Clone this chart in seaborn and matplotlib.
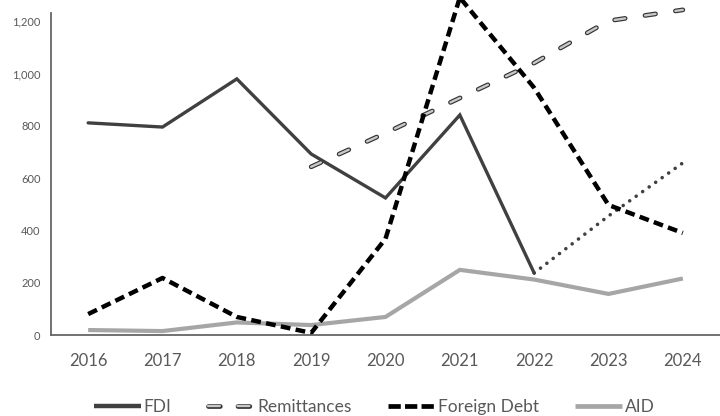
import matplotlib
matplotlib.use("Agg")
import matplotlib.pyplot as plt
import matplotlib.patheffects as pe
from matplotlib.lines import Line2D
import numpy as np
import pandas as pd
import seaborn as sns

years = [2016, 2017, 2018, 2019, 2020, 2021, 2022, 2023, 2024]
fdi = [811, 795, 979, 692, 524, 841, 237, np.nan, np.nan]
fdi_projection = [np.nan, np.nan, np.nan, np.nan, np.nan, np.nan, 237, 455, 658]
remittances = [np.nan, np.nan, np.nan, 643, 772, 906, 1040, 1201, 1243]
foreign_debt = [80, 218, 69, 8, 368, 1290, 945, 497, 390]
aid = [19, 15, 48, 38, 69, 249, 212, 157, 216]
y_ticks = [0, 200, 400, 600, 800, 1000, 1200]

df = pd.DataFrame({
    "year": years,
    "FDI": fdi,
    "FDI projection": fdi_projection,
    "Remittances": remittances,
    "Foreign Debt": foreign_debt,
    "AID": aid,
})

sns.set_theme(style="white")
plt.rcParams["font.family"] = ["Lato", "DejaVu Sans"]

fig = plt.figure(figsize=(7.2, 4.16), dpi=100)
ax = fig.add_axes([51 / 720, 1 - 335 / 416, 1 - 51 / 720, (335 - 13) / 416])

TEXT = "#595959"
FDI_C = "#404040"
AID_C = "#a6a6a6"
REM_FILL = "#c8c8c8"
REM_EDGE = "#333333"

rem_effects = [pe.Stroke(linewidth=3.4, foreground=REM_EDGE), pe.Normal()]

def draw(col, **kw):
    d = df.dropna(subset=[col])
    sns.lineplot(data=d, x="year", y=col, ax=ax, legend=False, clip_on=False, **kw)
    return ax.lines[-1]

draw("AID", color=AID_C, lw=3.0, solid_capstyle="butt")
draw("FDI", color=FDI_C, lw=2.4, solid_joinstyle="miter")
draw("FDI projection", color=FDI_C, lw=2.6, linestyle=(0, (0.01, 2.2)),
     dash_capstyle="round")
rem = draw("Remittances", color=REM_FILL, lw=1.7, linestyle=(0, (4.5, 8.5)),
           dash_capstyle="round")
rem.set_path_effects(rem_effects)
draw("Foreign Debt", color="black", lw=3.2, linestyle=(0, (2.2, 1.2)),
     dash_capstyle="butt")

ax.set_xlim(2015.5, 2024.5)
ax.set_ylim(0, 1231)
ax.set_xticks(years)
ax.set_xticklabels([str(y) for y in years])
ax.set_yticks(y_ticks)
ax.set_yticklabels([f"{v:,}" for v in y_ticks])
ax.tick_params(axis="x", labelsize=12, colors=TEXT, length=0, pad=13)
ax.tick_params(axis="y", labelsize=8, colors=TEXT, length=0, pad=7.5)
ax.set_xlabel("")
ax.set_ylabel("")
for s in ("top", "right"):
    ax.spines[s].set_visible(False)
for s in ("left", "bottom"):
    ax.spines[s].set_color("#666666")
    ax.spines[s].set_linewidth(1.3)

handles = [
    Line2D([], [], color=FDI_C, lw=3.2, solid_capstyle="butt"),
    Line2D([], [], color=REM_FILL, lw=1.7, linestyle=(0, (5.0, 7.5)),
           dash_capstyle="round", path_effects=rem_effects),
    Line2D([], [], color="black", lw=3.4, linestyle=(0, (2.6, 0.9)),
           dash_capstyle="butt"),
    Line2D([], [], color=AID_C, lw=3.4, solid_capstyle="butt"),
]
labels = ["FDI", "Remittances", "Foreign Debt", "AID"]
leg = fig.legend(handles, labels, loc="lower center", bbox_to_anchor=(0.52, -0.035),
                 ncol=4, frameon=False, fontsize=12.5, handlelength=2.7,
                 handletextpad=0.15, columnspacing=2.1)
for t in leg.get_texts():
    t.set_color(TEXT)

fig.savefig("out.png", dpi=100)
